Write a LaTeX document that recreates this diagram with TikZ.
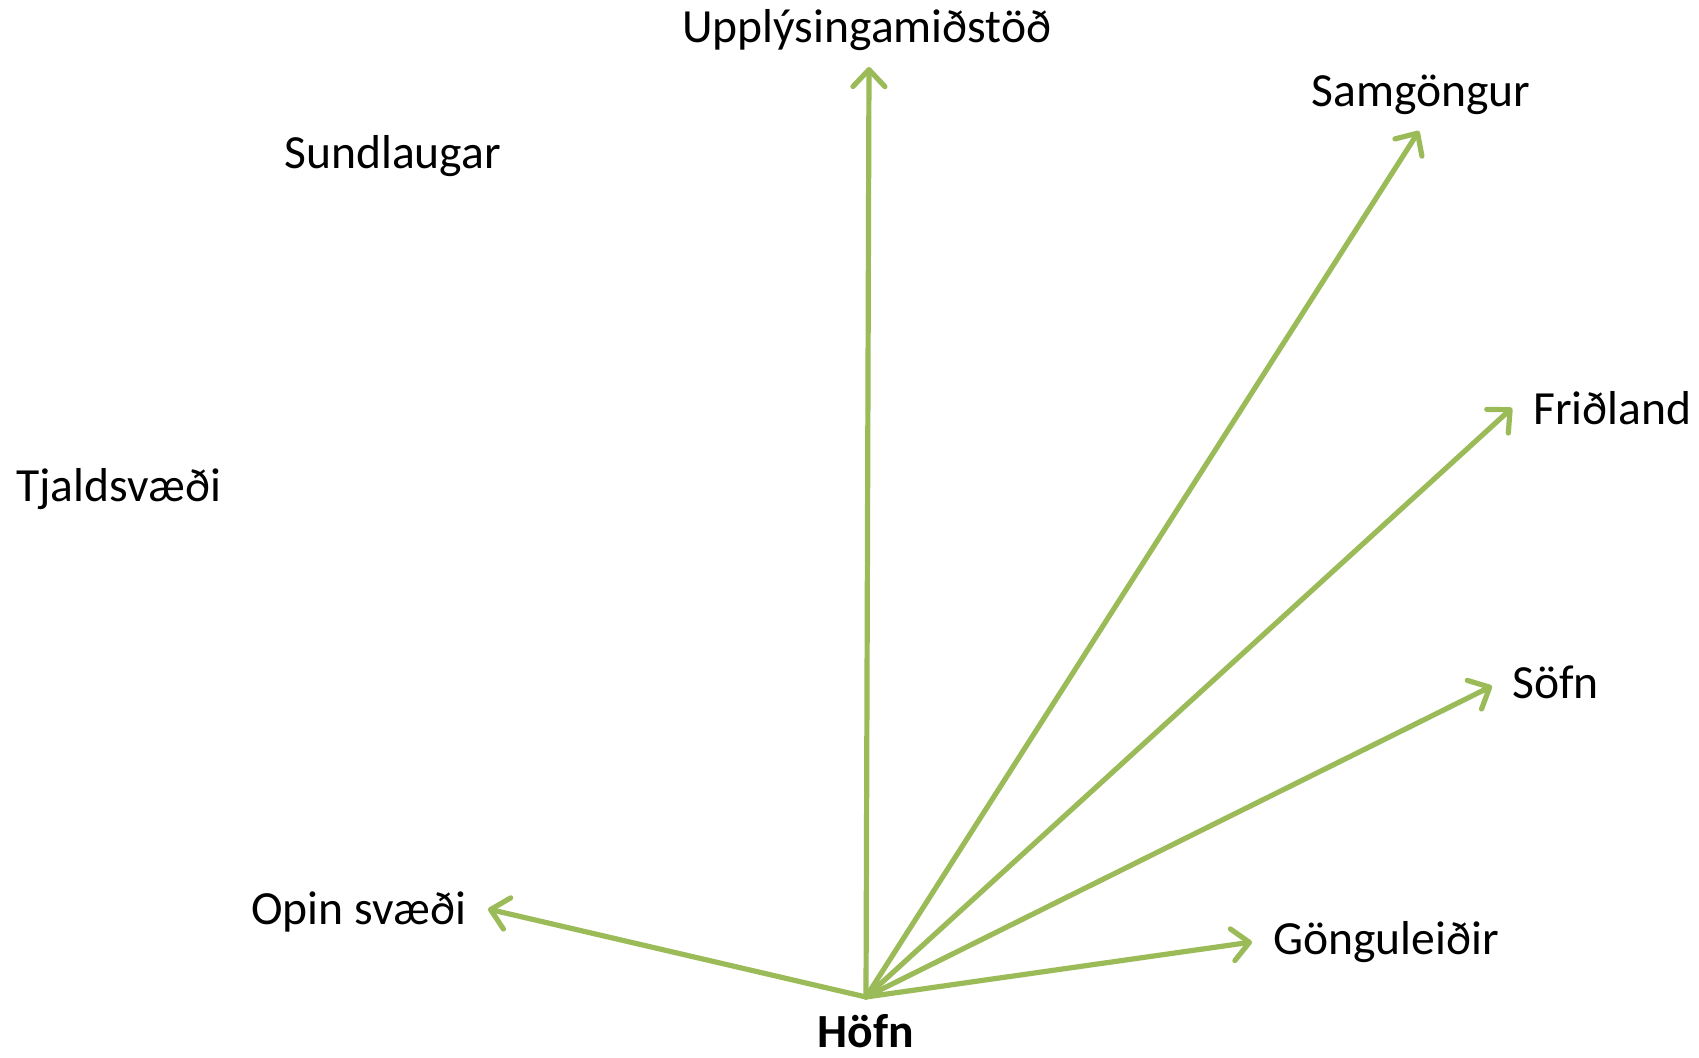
\documentclass[tikz,border=0pt]{standalone}
\usepackage{fontspec}
\setmainfont{Carlito}
\usepackage{tikz}
\usetikzlibrary{arrows.meta}
\definecolor{olivegreen}{HTML}{9BBB59}
\tikzstyle{place}=[inner sep=0pt, anchor=base west,
  font=\fontsize{23.8}{28}\selectfont]
\tikzstyle{hubname}=[place, anchor=base, font=\fontsize{23.8}{28}\selectfont\bfseries]
\tikzstyle{link}=[-{Straight Barb[length=8.5pt, width=16pt, line cap=round, line join=round]},
  line width=2.6pt, line cap=round, draw=olivegreen]

\begin{document}
\begin{tikzpicture}[x=0.5pt, y=-0.5pt]
\useasboundingbox (0,0) rectangle (1699,1058);

% hub
\coordinate (hub) at (866,997);
\node[hubname] (hofn) at (866,1047) {Höfn};

% places
\node[place] (upplys) at (682,43) {Upplýsingamiðstöð};
\node[place] (samgong) at (1311,107) {Samgöngur};
\node[place] (sundl) at (284,169) {Sundlaugar};
\node[place] (tjald) at (16,502) {Tjaldsvæði};
\node[place] (fridl) at (1533,425) {Friðland};
\node[place] (sofn) at (1512,699) {Söfn};
\node[place] (opin) at (251,925) {Opin svæði};
\node[place] (gongu) at (1273,955) {Gönguleiðir};

% arrow tips
\coordinate (toupplys) at (869,67);
\coordinate (tosamgong) at (1419,131);
\coordinate (tofridl) at (1512,408);
\coordinate (tosofn) at (1492,686);
\coordinate (toopin) at (488,909);
\coordinate (togongu) at (1252,942);

\draw[link] (hub) -- (toupplys);
\draw[link] (hub) -- (tosamgong);
\draw[link] (hub) -- (tofridl);
\draw[link] (hub) -- (tosofn);
\draw[link] (hub) -- (toopin);
\draw[link] (hub) -- (togongu);

\end{tikzpicture}
\end{document}
